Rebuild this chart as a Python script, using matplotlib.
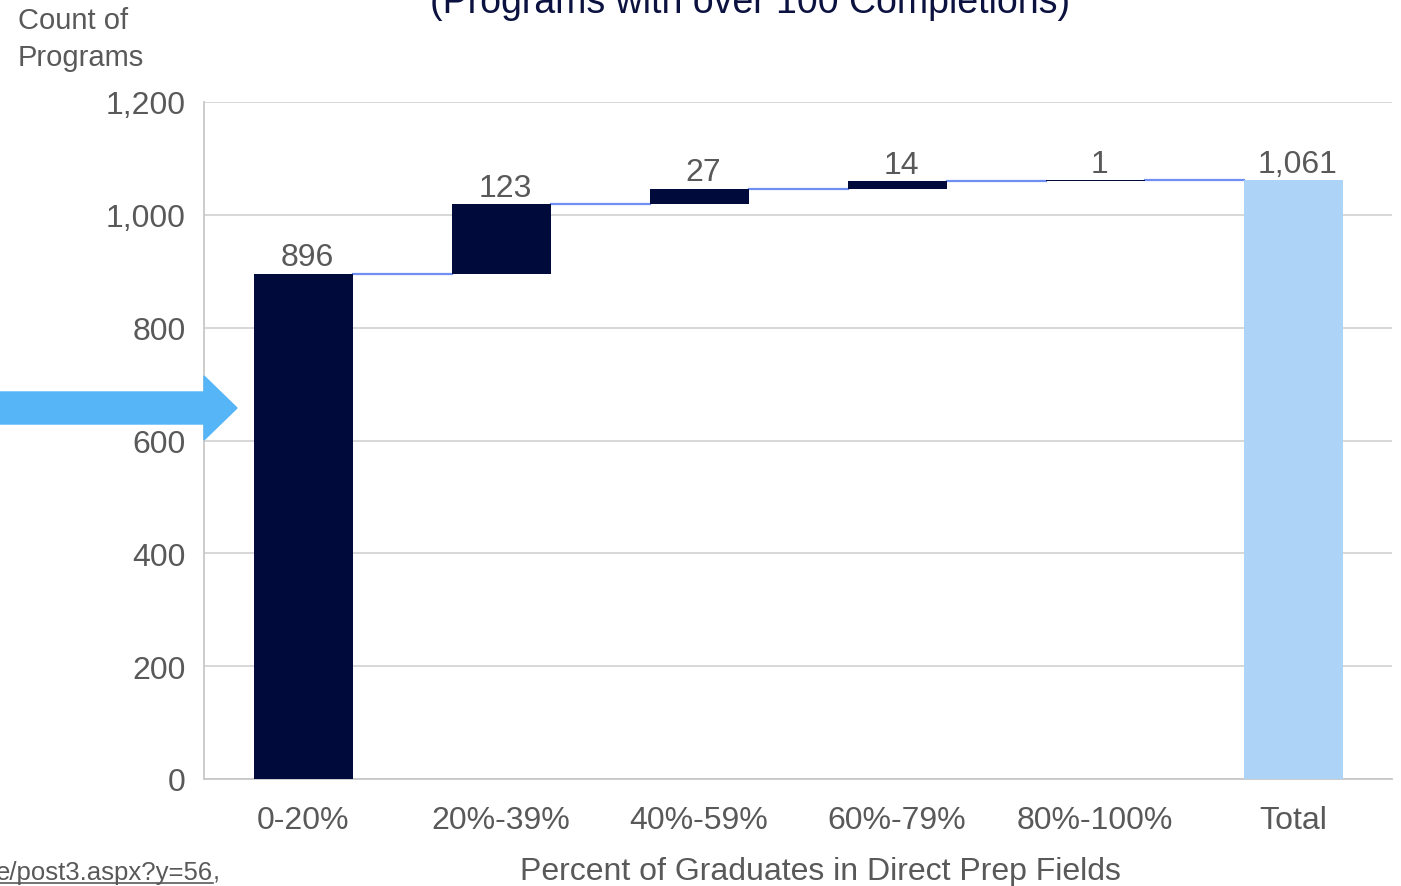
import matplotlib.pyplot as plt
from matplotlib.patches import Polygon
from matplotlib.lines import Line2D

plt.rcParams['font.family'] = ['Liberation Sans', 'DejaVu Sans']

categories = ["0-20%", "20%-39%", "40%-59%", "60%-79%", "80%-100%", "Total"]
steps = [896, 123, 27, 14, 1]
total = 1061
labels = ["896", "123", "27", "14", "1", "1,061"]
yticks = [0, 200, 400, 600, 800, 1000, 1200]
ytick_labels = ["0", "200", "400", "600", "800", "1,000", "1,200"]

navy = "#000b3b"
light = "#add3f7"
grey_txt = "#595959"

W, H = 1401, 887
fig = plt.figure(figsize=(W / 100, H / 100), dpi=100)
ax = fig.add_axes([204 / W, 107 / H, 1188 / W, 677 / H])

# waterfall bars
bottoms = []
run = 0
for s in steps:
    bottoms.append(run)
    run += s
x = list(range(len(categories)))
ax.bar(x[:-1], steps, bottom=bottoms, width=0.5, color=navy, zorder=3)
ax.bar(x[-1], total, width=0.5, color=light, zorder=3)

# connectors
tops = [b + s for b, s in zip(bottoms, steps)]
for i, t in enumerate(tops):
    ax.plot([i + 0.25, i + 0.75], [t, t], color="#6f8ff2", lw=1.6, zorder=2)

# data labels
for i, t in enumerate(tops + [total]):
    ax.annotate(labels[i], (i, t), xytext=(3, 1), textcoords="offset points",
                ha="center", va="bottom", fontsize=23, color=grey_txt)

ax.set_xlim(-0.5, 5.5)
ax.set_ylim(0, 1200)
ax.set_yticks(yticks)
ax.set_yticklabels(ytick_labels)
ax.set_xticks(x)
ax.set_xticklabels(categories)
ax.tick_params(axis="both", length=0, labelsize=23, labelcolor=grey_txt)
ax.tick_params(axis="y", pad=13)
ax.tick_params(axis="x", pad=19)
ax.grid(axis="y", color="#d4d4d4", lw=1.3, zorder=0)
for side in ["top", "right"]:
    ax.spines[side].set_visible(False)
for side in ["left", "bottom"]:
    ax.spines[side].set_color("#c8c8c8")
    ax.spines[side].set_linewidth(1.3)

fig.text(820 / W, 1 - 872 / H, "Percent of Graduates in Direct Prep Fields",
         ha="center", va="center", fontsize=23, color=grey_txt)

fig.text(18 / W, 1 - 7 / H, "Count of\nPrograms", ha="left", va="top",
         fontsize=21, color=grey_txt, linespacing=1.4)
fig.text(750 / W, 1 - 13 / H, "(Programs with over 100 Completions)",
         ha="center", va="baseline", fontsize=27, color="#0b1240")

# link fragment at bottom left
fig.text(213 / W, 1 - 880 / H, "e/post3.aspx?y=56", ha="right", va="baseline",
         fontsize=18.5, color=grey_txt)
fig.text(213 / W, 1 - 880 / H, ",", ha="left", va="baseline",
         fontsize=18.5, color=grey_txt)
fig.add_artist(Line2D([0, 213 / W], [1 - 884 / H, 1 - 884 / H], color=grey_txt, lw=1.2))

# blue arrow pointing at the first bar
pts = [(0, 393), (204, 393), (204, 377), (237, 409), (204, 441), (204, 425), (0, 425)]
fig.add_artist(Polygon([(px / W, 1 - py / H) for px, py in pts], closed=True,
                       color="#55b5f6", transform=fig.transFigure))

fig.savefig("out.png", dpi=100)
